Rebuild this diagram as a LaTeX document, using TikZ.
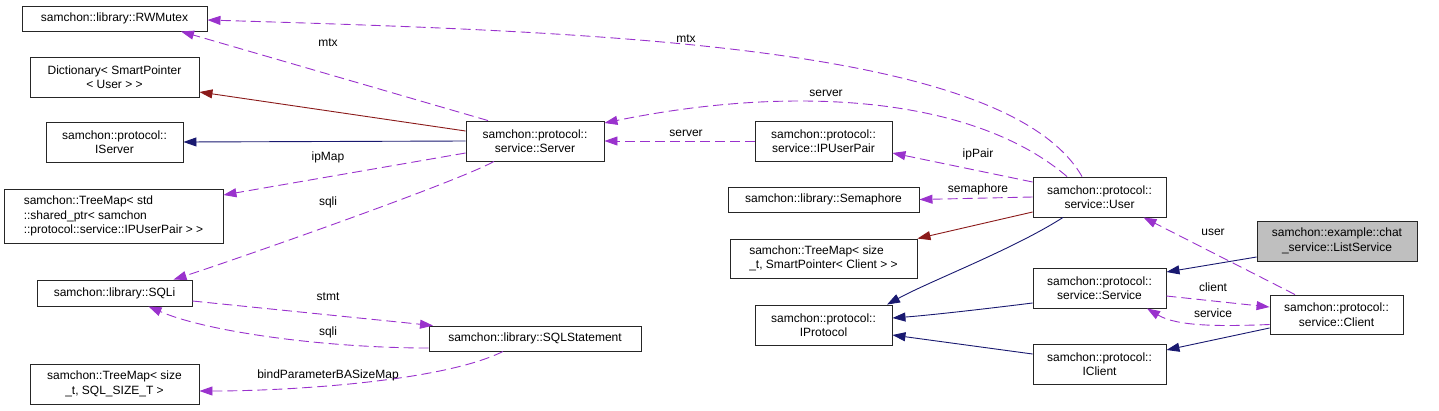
\documentclass[tikz,border=0pt]{standalone}
\usepackage{fontspec}
\setmainfont{Liberation Sans}
\usetikzlibrary{arrows.meta}

\definecolor{usecol}{HTML}{9A32CD}
\definecolor{inhcol}{HTML}{191970}
\definecolor{tplcol}{HTML}{8B1A1A}

\begin{document}
\begin{tikzpicture}[x=1pt, y=-1pt,
    cls/.style={draw=black!85, line width=0.9pt, fill=white, align=center, inner sep=0pt,
        font=\fontsize{12}{14.5}\selectfont},
    lbl/.style={font=\fontsize{12}{14}\selectfont, inner sep=0pt, text height=9pt, text depth=2pt},
    uses/.style={usecol, line width=0.9pt, dash pattern=on 10pt off 5pt, -{Triangle[length=13pt, width=9pt]}},
    inherits/.style={inhcol, line width=0.9pt, -{Triangle[length=13pt, width=9pt]}},
    tmpl/.style={tplcol, line width=0.9pt, -{Triangle[length=13pt, width=9pt]}}]
    \useasboundingbox (0,0) rectangle (1439,410);

    % Left column
    \node[cls, minimum width=185pt, minimum height=25pt] (rwm) at (114.5,18.5) {samchon::library::RWMutex};
    \node[cls, minimum width=169pt, minimum height=40pt] (dict) at (114.5,77) {Dictionary< SmartPointer\\< User > >};
    \node[cls, minimum width=137pt, minimum height=40pt] (isrv) at (114.5,142) {samchon::protocol::\\IServer};
    \node[cls, align=left, minimum width=219pt, minimum height=54pt] (tmip) at (113.5,216) {samchon::TreeMap< std\\::shared\_ptr< samchon\\::protocol::service::IPUserPair > >};
    \node[cls, minimum width=155pt, minimum height=26pt] (sqli) at (114.5,293) {samchon::library::SQLi};
    \node[cls, minimum width=169pt, minimum height=40pt] (tmsz) at (114.5,384) {samchon::TreeMap< size\\\_t, SQL\_SIZE\_T >};

    % Middle
    \node[cls, minimum width=138pt, minimum height=40pt] (srv) at (535,141) {samchon::protocol::\\service::Server};
    \node[cls, minimum width=212pt, minimum height=25pt] (stmt) at (535,338.5) {samchon::library::SQLStatement};
    \node[cls, minimum width=137pt, minimum height=40pt] (ipup) at (823.5,141) {samchon::protocol::\\service::IPUserPair};
    \node[cls, minimum width=191pt, minimum height=25pt] (sem) at (823.5,199.5) {samchon::library::Semaphore};
    \node[cls, align=left, minimum width=187pt, minimum height=39pt] (tmcl) at (823.5,258.5) {samchon::TreeMap< size\\\_t, SmartPointer< Client > >};
    \node[cls, minimum width=137pt, minimum height=40pt] (iproto) at (823.5,325) {samchon::protocol::\\IProtocol};

    % Right
    \node[cls, minimum width=133pt, minimum height=40pt] (user) at (1099.5,197) {samchon::protocol::\\service::User};
    \node[cls, minimum width=133pt, minimum height=40pt] (svc) at (1099.5,288) {samchon::protocol::\\service::Service};
    \node[cls, minimum width=133pt, minimum height=40pt] (icli) at (1099.5,364) {samchon::protocol::\\IClient};
    \node[cls, fill={rgb,255:red,191;green,191;blue,191}, minimum width=160pt, minimum height=40pt] (lsvc) at (1337,241) {samchon::example::chat\\\_service::ListService};
    \node[cls, minimum width=133pt, minimum height=39pt] (cli) at (1336.5,314.5) {samchon::protocol::\\service::Client};

    % Server members
    \draw[uses] ([xshift=-47pt]srv.north) -- ([xshift=66.5pt]rwm.south);
    \draw[tmpl] ([yshift=10pt]srv.west) -- ([yshift=-15pt]dict.east);
    \draw[inherits] (srv.west) -- (isrv.east);
    \draw[uses] ([yshift=-12pt]srv.west) -- ([yshift=21pt]tmip.east);
    \draw[uses] ([xshift=-41pt]srv.south) .. controls +(-40,22) and +(50,-16) .. ([xshift=59pt]sqli.north);

    % SQL statement
    \draw[uses] ([yshift=-8pt]sqli.east) -- ([xshift=-102pt]stmt.north);
    \draw[uses] ([yshift=-9.5pt]stmt.west) .. controls +(-100,0) and +(60,26) .. ([xshift=34pt]sqli.south);
    \draw[uses] ([xshift=-32pt]stmt.south) .. controls +(-60,30) and +(90,0) .. ([yshift=-7pt]tmsz.east);

    % User members
    \draw[uses] ([xshift=-17.5pt]user.north) .. controls +(-75,-131) and +(400,12) .. ([yshift=-1.5pt]rwm.east);
    \draw[uses] ([xshift=-32.5pt]user.north) .. controls +(-91,-78) and +(196,-40) .. ([yshift=18pt]srv.east);
    \draw[uses] (ipup.west) -- (srv.east);
    \draw[uses] ([yshift=15pt]user.west) -- ([yshift=-12pt]ipup.east);
    \draw[uses] (user.west) -- (sem.east);
    \draw[tmpl] ([yshift=-15pt]user.west) -- (tmcl.north east);
    \draw[inherits] ([xshift=-36.5pt]user.south) .. controls +(-50,32) and +(44,-24) .. ([xshift=63.5pt]iproto.north);

    % Protocol side
    \draw[inherits] ([yshift=-15pt]svc.west) .. controls +(-40,5) and +(40,-3) .. ([yshift=7pt]iproto.east);
    \draw[inherits] ([yshift=10pt]icli.west) -- ([yshift=-10pt]iproto.east);
    \draw[inherits] ([yshift=-16pt]lsvc.west) -- ([yshift=16pt]svc.east);
    \draw[uses] ([yshift=-10pt]cli.west) .. controls +(-50,2) and +(30,18) .. ([xshift=47.5pt]svc.south);
    \draw[uses] ([yshift=-8pt]svc.east) -- ([yshift=7.5pt]cli.west);
    \draw[uses] ([xshift=-41.5pt]cli.north) -- ([xshift=44pt]user.south);
    \draw[inherits] ([yshift=-13.5pt]cli.west) -- ([yshift=14pt]icli.east);

    % Labels
    \node[lbl] (l-mtx) at (328,43) {mtx};
    \node[lbl] (l-ipmap) at (328,157) {ipMap};
    \node[lbl] (l-sqli) at (328,202) {sqli};
    \node[lbl] (l-stmt) at (328,297) {stmt};
    \node[lbl] (l-sqlib) at (328,332) {sqli};
    \node[lbl] (l-bind) at (328,375) {bindParameterBASizeMap};
    \node[lbl] (l-mtxb) at (686,39) {mtx};
    \node[lbl] (l-srv) at (826,93) {server};
    \node[lbl] (l-srvb) at (686,133) {server};
    \node[lbl] (l-ippair) at (978,154) {ipPair};
    \node[lbl] (l-sem) at (978,189) {semaphore};
    \node[lbl] (l-user) at (1213,232) {user};
    \node[lbl] (l-client) at (1213,288) {client};
    \node[lbl] (l-service) at (1213,314) {service};
\end{tikzpicture}
\end{document}
